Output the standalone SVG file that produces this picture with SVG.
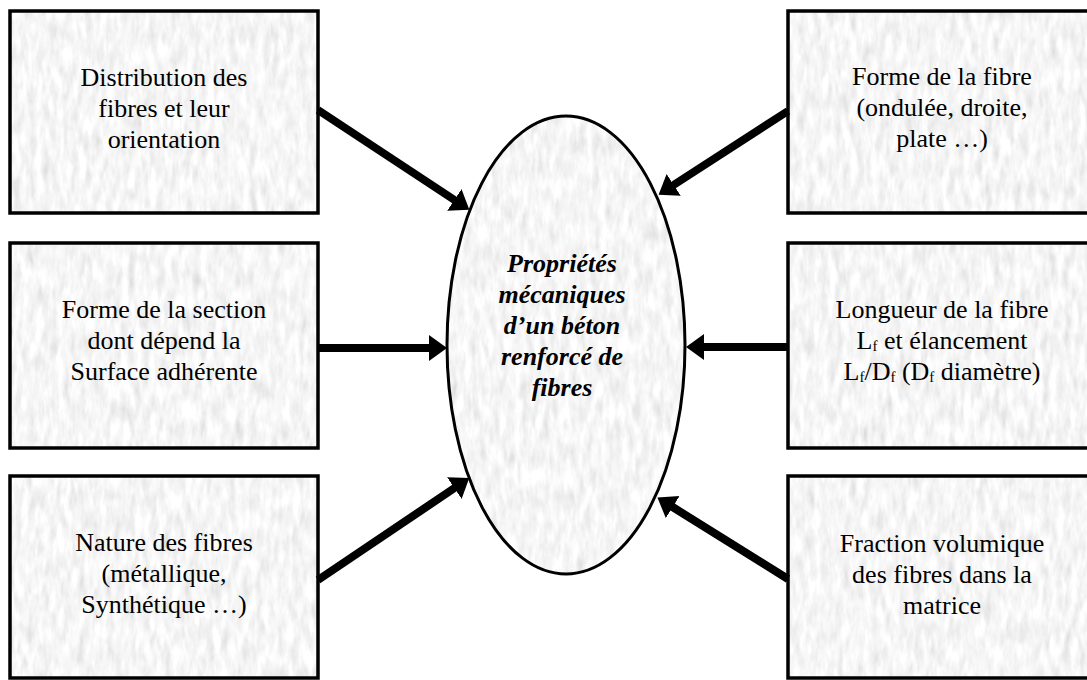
<svg xmlns="http://www.w3.org/2000/svg" width="1087" height="680" viewBox="0 0 1087 680">
<style>
.bg{filter:url(#paper)}
.frame{fill:none;stroke:#000;stroke-width:3.5}
.t{font-family:"Liberation Serif","Times New Roman",serif;font-size:26px;fill:#000;text-anchor:middle}
.c{font-weight:bold;font-style:italic}
.sub{font-size:15px}
.arr{stroke:#000;stroke-width:8;fill:none;marker-end:url(#ah)}
</style>
<defs>
<filter id="paper" x="0" y="0" width="100%" height="100%" filterUnits="objectBoundingBox">
<feTurbulence type="fractalNoise" baseFrequency="0.14 0.045" numOctaves="3" seed="7" result="n"/>
<feColorMatrix in="n" type="matrix" values="0.24 0.24 0.24 0 0.56  0.24 0.24 0.24 0 0.56  0.24 0.24 0.24 0 0.56  0 0 0 0 1" result="g"/>
<feComposite in="g" in2="SourceGraphic" operator="in"/>
</filter>
<marker id="ah" markerUnits="userSpaceOnUse" markerWidth="20" markerHeight="28" refX="2" refY="13" orient="auto">
<path d="M0,0 L18,13 L0,26 z" fill="#000"/>
</marker>
</defs>
<rect width="1087" height="680" fill="#fff"/>

<g id="box-distribution">
<rect class="bg" x="10" y="11" width="308" height="202" fill="#fff"/>
<rect class="frame" x="10" y="11" width="308" height="202"/>
<text class="t" x="164" y="86">Distribution des</text>
<text class="t" x="164" y="117">fibres et leur</text>
<text class="t" x="164" y="148">orientation</text>
</g>

<g id="box-section">
<rect class="bg" x="10" y="243" width="308" height="205" fill="#fff"/>
<rect class="frame" x="10" y="243" width="308" height="205"/>
<text class="t" x="164" y="318">Forme de la section</text>
<text class="t" x="164" y="349">dont dépend la</text>
<text class="t" x="164" y="380">Surface adhérente</text>
</g>

<g id="box-nature">
<rect class="bg" x="10" y="476" width="308" height="202" fill="#fff"/>
<rect class="frame" x="10" y="476" width="308" height="202"/>
<text class="t" x="164" y="551">Nature des fibres</text>
<text class="t" x="164" y="582">(métallique,</text>
<text class="t" x="164" y="613">Synthétique …)</text>
</g>

<g id="box-forme-fibre">
<rect class="bg" x="788" y="11" width="310" height="202" fill="#fff"/>
<rect class="frame" x="788" y="11" width="310" height="202"/>
<text class="t" x="942" y="85">Forme de la fibre</text>
<text class="t" x="942" y="116">(ondulée, droite,</text>
<text class="t" x="942" y="147">plate …)</text>
</g>

<g id="box-longueur">
<rect class="bg" x="788" y="243" width="310" height="205" fill="#fff"/>
<rect class="frame" x="788" y="243" width="310" height="205"/>
<text class="t" x="942" y="318">Longueur de la fibre</text>
<text class="t" x="942" y="349">L<tspan class="sub" dy="2">f</tspan><tspan dy="-2"> et élancement</tspan></text>
<text class="t" x="942" y="380">L<tspan class="sub" dy="2">f</tspan><tspan dy="-2">/D</tspan><tspan class="sub" dy="2">f</tspan><tspan dy="-2"> (D</tspan><tspan class="sub" dy="2">f</tspan><tspan dy="-2"> diamètre)</tspan></text>
</g>

<g id="box-fraction">
<rect class="bg" x="788" y="476" width="310" height="202" fill="#fff"/>
<rect class="frame" x="788" y="476" width="310" height="202"/>
<text class="t" x="942" y="552">Fraction volumique</text>
<text class="t" x="942" y="583">des fibres dans la</text>
<text class="t" x="942" y="614">matrice</text>
</g>

<g id="center-ellipse">
<ellipse class="bg" cx="566" cy="345" rx="119" ry="229" fill="#fff"/>
<ellipse cx="566" cy="345" rx="119" ry="229" fill="none" stroke="#000" stroke-width="3"/>
<text class="t c" x="562" y="272">Propriétés</text>
<text class="t c" x="562" y="303">mécaniques</text>
<text class="t c" x="562" y="334">d’un béton</text>
<text class="t c" x="562" y="365">renforcé de</text>
<text class="t c" x="562" y="396">fibres</text>
</g>

<g id="connectors">
<line class="arr" x1="318" y1="110" x2="456" y2="201"/>
<line class="arr" x1="318" y1="348" x2="431" y2="348"/>
<line class="arr" x1="318" y1="580" x2="456" y2="487"/>
<line class="arr" x1="788" y1="111" x2="672" y2="186"/>
<line class="arr" x1="788" y1="347" x2="702" y2="347"/>
<line class="arr" x1="788" y1="579" x2="671" y2="506"/>
</g>
</svg>
